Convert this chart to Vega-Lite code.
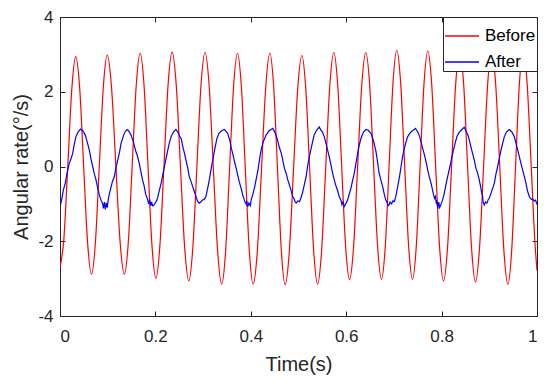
{
  "$schema": "https://vega.github.io/schema/vega-lite/v6.json",
  "width": 477,
  "height": 299,
  "autosize": "none",
  "padding": {"left": 60, "top": 17, "right": 13, "bottom": 69},
  "background": "white",
  "config": {
    "view": {"stroke": null},
    "font": "Liberation Sans",
    "axis": {"grid": false, "domainColor": "#262626", "tickColor": "#262626", "labelColor": "#262626", "titleColor": "#262626", "labelFont": "Liberation Sans", "titleFont": "Liberation Sans", "labelFontSize": 17, "titleFontSize": 20, "titleFontWeight": "normal", "tickSize": -5, "domainWidth": 1, "tickWidth": 1},
    "legend": {"orient": "top-right", "offset": 0, "symbolType": "stroke", "symbolSize": 1156, "symbolStrokeWidth": 1.3, "labelFont": "Liberation Sans", "labelFontSize": 17, "labelColor": "black", "strokeColor": "#262626", "fillColor": "white", "padding": 1, "rowPadding": -6, "labelOffset": 5}
  },
  "datasets": {
    "before": [
      {"t":0,"v":-2.7},{"t":0.008,"v":-1.95},{"t":0.0165,"v":0.05},{"t":0.0248,"v":2.08},{"t":0.033,"v":2.94},
      {"t":0.0413,"v":2.09},{"t":0.0495,"v":0.03},{"t":0.0578,"v":-2.03},{"t":0.066,"v":-2.88},
      {"t":0.0743,"v":-2.02},{"t":0.0825,"v":0.05},{"t":0.0908,"v":2.12},{"t":0.099,"v":2.98},
      {"t":0.108,"v":2.12},{"t":0.117,"v":0.05},{"t":0.126,"v":-2.02},{"t":0.135,"v":-2.88},
      {"t":0.1433,"v":-2.01},{"t":0.1515,"v":0.07},{"t":0.1598,"v":2.16},{"t":0.168,"v":3.03},
      {"t":0.1763,"v":2.15},{"t":0.1845,"v":0.02},{"t":0.1928,"v":-2.11},{"t":0.201,"v":-2.99},
      {"t":0.2095,"v":-2.1},{"t":0.218,"v":0.03},{"t":0.2265,"v":2.17},{"t":0.235,"v":3.06},
      {"t":0.2438,"v":2.16},{"t":0.2525,"v":0},{"t":0.2613,"v":-2.16},{"t":0.27,"v":-3.06},
      {"t":0.2785,"v":-2.16},{"t":0.287,"v":0},{"t":0.2955,"v":2.16},{"t":0.304,"v":3.05},
      {"t":0.3128,"v":2.14},{"t":0.3215,"v":-0.05},{"t":0.3303,"v":-2.24},{"t":0.339,"v":-3.15},
      {"t":0.3473,"v":-2.24},{"t":0.3555,"v":-0.06},{"t":0.3638,"v":2.12},{"t":0.372,"v":3.03},
      {"t":0.3803,"v":2.12},{"t":0.3885,"v":-0.06},{"t":0.3968,"v":-2.24},{"t":0.405,"v":-3.15},
      {"t":0.4138,"v":-2.24},{"t":0.4225,"v":-0.06},{"t":0.4313,"v":2.12},{"t":0.44,"v":3.03},
      {"t":0.448,"v":2.12},{"t":0.456,"v":-0.06},{"t":0.464,"v":-2.25},{"t":0.472,"v":-3.16},
      {"t":0.4808,"v":-2.26},{"t":0.4895,"v":-0.09},{"t":0.4983,"v":2.07},{"t":0.507,"v":2.97},
      {"t":0.5153,"v":2.07},{"t":0.5235,"v":-0.09},{"t":0.5318,"v":-2.25},{"t":0.54,"v":-3.15},
      {"t":0.5485,"v":-2.24},{"t":0.557,"v":-0.05},{"t":0.5655,"v":2.14},{"t":0.574,"v":3.05},
      {"t":0.5823,"v":2.16},{"t":0.5905,"v":0.01},{"t":0.5988,"v":-2.14},{"t":0.607,"v":-3.03},
      {"t":0.6155,"v":-2.14},{"t":0.624,"v":0.01},{"t":0.6325,"v":2.16},{"t":0.641,"v":3.05},
      {"t":0.6493,"v":2.16},{"t":0.6575,"v":0.01},{"t":0.6658,"v":-2.13},{"t":0.674,"v":-3.02},
      {"t":0.682,"v":-2.12},{"t":0.69,"v":0.04},{"t":0.698,"v":2.21},{"t":0.706,"v":3.11},
      {"t":0.7143,"v":2.21},{"t":0.7225,"v":0.04},{"t":0.7308,"v":-2.12},{"t":0.739,"v":-3.02},
      {"t":0.747,"v":-2.12},{"t":0.755,"v":0.03},{"t":0.763,"v":2.19},{"t":0.771,"v":3.09},
      {"t":0.7793,"v":2.19},{"t":0.7875,"v":0.01},{"t":0.7958,"v":-2.16},{"t":0.804,"v":-3.06},
      {"t":0.8125,"v":-2.16},{"t":0.821,"v":0.02},{"t":0.8295,"v":2.2},{"t":0.838,"v":3.1},
      {"t":0.8463,"v":2.19},{"t":0.8545,"v":0},{"t":0.8628,"v":-2.18},{"t":0.871,"v":-3.09},
      {"t":0.8795,"v":-2.18},{"t":0.888,"v":0},{"t":0.8965,"v":2.19},{"t":0.905,"v":3.1},
      {"t":0.9135,"v":2.18},{"t":0.922,"v":-0.02},{"t":0.9305,"v":-2.23},{"t":0.939,"v":-3.15},
      {"t":0.947,"v":-2.23},{"t":0.955,"v":-0.02},{"t":0.963,"v":2.2},{"t":0.971,"v":3.12},
      {"t":0.9795,"v":2.18},{"t":0.9878,"v":0.03},{"t":0.9961,"v":-2.12},{"t":1.0,"v":-2.78}
    ],
    "after": [
      {"t":0.0015,"v":-1.01},{"t":0.004,"v":-0.85},{"t":0.007,"v":-0.63},{"t":0.011,"v":-0.45},{"t":0.0145,"v":-0.2},{"t":0.017,"v":-0.05},{"t":0.0195,"v":0.09},{"t":0.023,"v":0.2},{"t":0.0266,"v":0.35},{"t":0.03,"v":0.6},{"t":0.0335,"v":0.8},{"t":0.038,"v":0.93},{"t":0.043,"v":1.0},{"t":0.048,"v":0.95},{"t":0.053,"v":0.84},{"t":0.057,"v":0.66},{"t":0.0615,"v":0.44},{"t":0.065,"v":0.2},{"t":0.0685,"v":0.0},{"t":0.072,"v":-0.2},{"t":0.0755,"v":-0.36},{"t":0.079,"v":-0.58},{"t":0.0825,"v":-0.76},{"t":0.086,"v":-0.9},{"t":0.089,"v":-0.98},{"t":0.091,"v":-1.12},{"t":0.093,"v":-0.95},{"t":0.095,"v":-1.15},{"t":0.097,"v":-0.97},{"t":0.099,"v":-1.1},{"t":0.101,"v":-0.9},{"t":0.103,"v":-0.76},{"t":0.107,"v":-0.55},{"t":0.11,"v":-0.4},{"t":0.114,"v":-0.27},{"t":0.117,"v":-0.05},{"t":0.121,"v":0.17},{"t":0.125,"v":0.4},{"t":0.128,"v":0.62},{"t":0.1335,"v":0.84},{"t":0.137,"v":0.94},{"t":0.1405,"v":0.99},{"t":0.144,"v":0.95},{"t":0.149,"v":0.84},{"t":0.151,"v":0.76},{"t":0.153,"v":0.7},{"t":0.156,"v":0.55},{"t":0.159,"v":0.4},{"t":0.162,"v":0.3},{"t":0.166,"v":0.09},{"t":0.169,"v":-0.1},{"t":0.173,"v":-0.36},{"t":0.176,"v":-0.5},{"t":0.18,"v":-0.76},{"t":0.183,"v":-0.85},{"t":0.186,"v":-1.0},{"t":0.188,"v":-0.88},{"t":0.19,"v":-1.05},{"t":0.192,"v":-0.95},{"t":0.194,"v":-1.05},{"t":0.197,"v":-1.03},{"t":0.2,"v":-0.97},{"t":0.203,"v":-0.9},{"t":0.205,"v":-0.82},{"t":0.208,"v":-0.65},{"t":0.212,"v":-0.45},{"t":0.215,"v":-0.25},{"t":0.219,"v":0.0},{"t":0.222,"v":0.2},{"t":0.226,"v":0.44},{"t":0.229,"v":0.62},{"t":0.233,"v":0.8},{"t":0.238,"v":0.93},{"t":0.243,"v":0.99},{"t":0.248,"v":0.9},{"t":0.251,"v":0.8},{"t":0.254,"v":0.75},{"t":0.258,"v":0.5},{"t":0.261,"v":0.35},{"t":0.264,"v":0.17},{"t":0.268,"v":-0.05},{"t":0.271,"v":-0.27},{"t":0.276,"v":-0.45},{"t":0.2815,"v":-0.67},{"t":0.285,"v":-0.8},{"t":0.288,"v":-0.92},{"t":0.292,"v":-0.98},{"t":0.295,"v":-0.95},{"t":0.298,"v":-0.9},{"t":0.3025,"v":-0.88},{"t":0.306,"v":-0.8},{"t":0.309,"v":-0.62},{"t":0.313,"v":-0.36},{"t":0.317,"v":-0.05},{"t":0.3215,"v":0.26},{"t":0.325,"v":0.5},{"t":0.329,"v":0.75},{"t":0.333,"v":0.88},{"t":0.338,"v":0.95},{"t":0.3445,"v":0.99},{"t":0.3515,"v":0.89},{"t":0.356,"v":0.7},{"t":0.359,"v":0.5},{"t":0.362,"v":0.35},{"t":0.366,"v":0.12},{"t":0.3695,"v":-0.05},{"t":0.3725,"v":-0.23},{"t":0.376,"v":-0.42},{"t":0.379,"v":-0.55},{"t":0.383,"v":-0.76},{"t":0.386,"v":-0.88},{"t":0.388,"v":-0.95},{"t":0.39,"v":-1.0},{"t":0.3915,"v":-0.92},{"t":0.3935,"v":-1.08},{"t":0.396,"v":-0.98},{"t":0.399,"v":-1.05},{"t":0.401,"v":-0.88},{"t":0.404,"v":-0.76},{"t":0.408,"v":-0.55},{"t":0.411,"v":-0.36},{"t":0.415,"v":-0.1},{"t":0.418,"v":0.17},{"t":0.421,"v":0.4},{"t":0.425,"v":0.62},{"t":0.432,"v":0.84},{"t":0.438,"v":0.95},{"t":0.446,"v":1.02},{"t":0.451,"v":0.9},{"t":0.456,"v":0.71},{"t":0.46,"v":0.5},{"t":0.464,"v":0.35},{"t":0.467,"v":0.17},{"t":0.4705,"v":-0.05},{"t":0.4745,"v":-0.2},{"t":0.4775,"v":-0.36},{"t":0.481,"v":-0.5},{"t":0.484,"v":-0.62},{"t":0.488,"v":-0.81},{"t":0.4905,"v":-0.85},{"t":0.493,"v":-0.95},{"t":0.495,"v":-0.98},{"t":0.4985,"v":-0.92},{"t":0.502,"v":-0.94},{"t":0.505,"v":-0.85},{"t":0.509,"v":-0.67},{"t":0.512,"v":-0.5},{"t":0.516,"v":-0.27},{"t":0.519,"v":0.0},{"t":0.5225,"v":0.26},{"t":0.526,"v":0.45},{"t":0.5295,"v":0.66},{"t":0.533,"v":0.85},{"t":0.537,"v":0.95},{"t":0.54,"v":1.0},{"t":0.5435,"v":1.06},{"t":0.547,"v":0.97},{"t":0.55,"v":0.93},{"t":0.554,"v":0.8},{"t":0.558,"v":0.6},{"t":0.5645,"v":0.26},{"t":0.568,"v":0.05},{"t":0.571,"v":-0.15},{"t":0.575,"v":-0.36},{"t":0.578,"v":-0.5},{"t":0.582,"v":-0.65},{"t":0.5855,"v":-0.81},{"t":0.589,"v":-0.9},{"t":0.591,"v":-1.02},{"t":0.593,"v":-0.95},{"t":0.596,"v":-1.07},{"t":0.599,"v":-1.0},{"t":0.603,"v":-0.9},{"t":0.606,"v":-0.75},{"t":0.61,"v":-0.58},{"t":0.613,"v":-0.4},{"t":0.617,"v":-0.18},{"t":0.62,"v":0.05},{"t":0.624,"v":0.35},{"t":0.627,"v":0.55},{"t":0.631,"v":0.75},{"t":0.636,"v":0.92},{"t":0.6415,"v":0.99},{"t":0.646,"v":0.97},{"t":0.652,"v":0.89},{"t":0.657,"v":0.7},{"t":0.6625,"v":0.4},{"t":0.666,"v":0.1},{"t":0.669,"v":-0.18},{"t":0.673,"v":-0.38},{"t":0.6765,"v":-0.54},{"t":0.68,"v":-0.75},{"t":0.683,"v":-0.9},{"t":0.686,"v":-0.97},{"t":0.688,"v":-1.05},{"t":0.69,"v":-1.03},{"t":0.692,"v":-0.95},{"t":0.695,"v":-1.0},{"t":0.698,"v":-0.92},{"t":0.701,"v":-0.94},{"t":0.704,"v":-0.8},{"t":0.708,"v":-0.54},{"t":0.712,"v":-0.25},{"t":0.715,"v":0.0},{"t":0.718,"v":0.25},{"t":0.722,"v":0.49},{"t":0.726,"v":0.68},{"t":0.729,"v":0.8},{"t":0.734,"v":0.9},{"t":0.738,"v":0.95},{"t":0.742,"v":0.98},{"t":0.745,"v":1.02},{"t":0.749,"v":0.95},{"t":0.753,"v":0.84},{"t":0.757,"v":0.65},{"t":0.76,"v":0.5},{"t":0.764,"v":0.31},{"t":0.768,"v":0.1},{"t":0.771,"v":-0.1},{"t":0.774,"v":-0.27},{"t":0.778,"v":-0.45},{"t":0.7825,"v":-0.72},{"t":0.785,"v":-0.85},{"t":0.787,"v":-0.8},{"t":0.789,"v":-1.0},{"t":0.79,"v":-0.9},{"t":0.792,"v":-1.12},{"t":0.794,"v":-0.95},{"t":0.796,"v":-1.1},{"t":0.799,"v":-1.0},{"t":0.802,"v":-0.9},{"t":0.805,"v":-0.75},{"t":0.809,"v":-0.49},{"t":0.813,"v":-0.25},{"t":0.8175,"v":0.0},{"t":0.822,"v":0.28},{"t":0.8265,"v":0.53},{"t":0.832,"v":0.8},{"t":0.836,"v":0.9},{"t":0.841,"v":0.97},{"t":0.8475,"v":1.05},{"t":0.851,"v":0.95},{"t":0.855,"v":0.85},{"t":0.858,"v":0.71},{"t":0.862,"v":0.5},{"t":0.8685,"v":0.17},{"t":0.872,"v":-0.05},{"t":0.875,"v":-0.15},{"t":0.879,"v":-0.36},{"t":0.882,"v":-0.55},{"t":0.884,"v":-0.7},{"t":0.886,"v":-0.8},{"t":0.887,"v":-0.95},{"t":0.8895,"v":-1.03},{"t":0.892,"v":-0.95},{"t":0.895,"v":-0.98},{"t":0.898,"v":-0.88},{"t":0.9,"v":-0.85},{"t":0.904,"v":-0.7},{"t":0.9105,"v":-0.45},{"t":0.914,"v":-0.2},{"t":0.9175,"v":0.0},{"t":0.921,"v":0.22},{"t":0.9245,"v":0.44},{"t":0.928,"v":0.62},{"t":0.9315,"v":0.8},{"t":0.936,"v":0.92},{"t":0.942,"v":0.99},{"t":0.947,"v":0.93},{"t":0.9525,"v":0.8},{"t":0.956,"v":0.62},{"t":0.96,"v":0.42},{"t":0.963,"v":0.26},{"t":0.967,"v":0.05},{"t":0.9735,"v":-0.27},{"t":0.977,"v":-0.45},{"t":0.98,"v":-0.65},{"t":0.984,"v":-0.81},{"t":0.988,"v":-0.88},{"t":0.991,"v":-0.87},{"t":0.994,"v":-0.92},{"t":0.997,"v":-0.9},{"t":1.0,"v":-1.02}
    ]
  },
  "layer": [
    {
      "data": {"name": "before"},
      "mark": {"type": "line", "interpolate": "monotone", "strokeWidth": 1.2, "clip": true},
      "encoding": {
        "x": {"field": "t", "type": "quantitative", "scale": {"domain": [0, 1], "nice": false, "zero": false},
              "axis": {"orient": "bottom", "values": [0, 0.2, 0.4, 0.6, 0.8, 1], "labelExpr": "'' + datum.value", "labelPadding": 17, "title": "Time(s)", "titlePadding": 10}},
        "y": {"field": "v", "type": "quantitative", "scale": {"domain": [-4, 4], "nice": false},
              "axis": {"orient": "left", "values": [-4, -2, 0, 2, 4], "labelExpr": "'' + datum.value", "labelPadding": 12, "title": "Angular rate(°/s)", "titlePadding": 6}},
        "color": {"datum": "Before", "type": "nominal", "scale": {"domain": ["Before", "After"], "range": ["#ff0000", "#0000ff"]}, "legend": {"title": null}}
      }
    },
    {
      "data": {"name": "after"},
      "mark": {"type": "line", "interpolate": "linear", "strokeWidth": 1.2, "clip": true},
      "encoding": {
        "x": {"field": "t", "type": "quantitative", "scale": {"domain": [0, 1], "nice": false, "zero": false},
              "axis": {"orient": "top", "values": [0, 0.2, 0.4, 0.6, 0.8, 1], "labels": false, "title": null}},
        "y": {"field": "v", "type": "quantitative", "scale": {"domain": [-4, 4], "nice": false},
              "axis": {"orient": "right", "values": [-4, -2, 0, 2, 4], "labels": false, "title": null}},
        "color": {"datum": "After", "type": "nominal"}
      }
    }
  ],
  "resolve": {"axis": {"x": "independent", "y": "independent"}}
}
